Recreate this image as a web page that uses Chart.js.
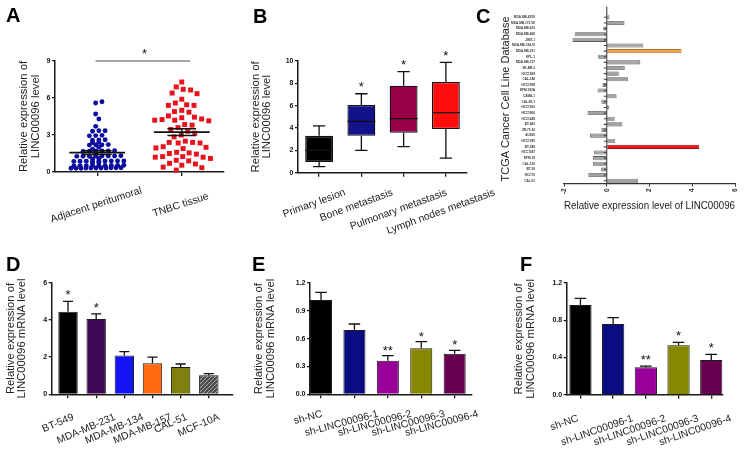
<!DOCTYPE html>
<html>
<head>
<meta charset="utf-8">
<title>LINC00096 figure</title>
<script src="https://cdn.jsdelivr.net/npm/chart.js@4.4.1/dist/chart.umd.min.js"></script>
<style>
  html, body { margin:0; padding:0; background:#ffffff; }
  #fig { position:relative; width:753px; height:455px; overflow:hidden; background:#fff; }
  #fig canvas { position:absolute; left:0; top:0; }
  .panel { position:absolute; font-family:"Liberation Sans", Arial, sans-serif; font-weight:bold; font-size:20px; line-height:20px; color:#000; }
</style>
</head>
<body>
<div id="fig">
  <canvas id="chartA" width="753" height="455"></canvas>
  <canvas id="chartB" width="753" height="455"></canvas>
  <canvas id="chartC" width="753" height="455"></canvas>
  <canvas id="chartD" width="753" height="455"></canvas>
  <canvas id="chartE" width="753" height="455"></canvas>
  <canvas id="chartF" width="753" height="455"></canvas>
  <div class="panel" style="left:6px;top:5px">A</div>
  <div class="panel" style="left:253px;top:6px">B</div>
  <div class="panel" style="left:476px;top:6px">C</div>
  <div class="panel" style="left:6px;top:254px">D</div>
  <div class="panel" style="left:252px;top:254px">E</div>
  <div class="panel" style="left:520px;top:254px">F</div>
</div>
<script>
// ================= DATA =================
// Panel A – individual samples
const aGroups = ['Adjacent peritumoral', 'TNBC tissue'];
const aAdjacent = [5.7, 5.6, 4.7, 4.3, 3.7,
  3.35, 3.35, 3.3,
  2.95, 2.97, 2.93,
  2.6, 2.62, 2.58,
  2.4, 2.38,
  2.2, 2.2, 2.18, 2.22,
  2.0, 1.85,
  1.7, 1.68, 1.7, 1.66, 1.72, 1.7, 1.5,
  1.3, 1.28, 1.3, 1.27, 1.3, 1.32, 1.28, 1.3, 1.1, 1.05,
  0.9, 0.88, 0.87, 0.9, 0.88, 0.86, 0.9, 0.88, 0.89, 0.75, 0.7,
  0.54, 0.52, 0.55, 0.52, 0.54, 0.5, 0.53, 0.52, 0.52,
  0.35, 0.33, 0.32, 0.35, 0.3, 0.34, 0.33, 0.31, 0.32, 0.3, 0.33];
const aTnbc = [7.3, 6.9, 6.7, 6.65, 6.4, 6.35, 5.9, 5.6, 5.45, 5.4, 5.4, 5.0, 4.9, 4.85, 4.55, 4.45, 4.4, 4.3, 4.2, 4.2, 4.15, 4.25,
  3.85, 3.8, 3.6, 3.45, 3.3, 3.15, 3.0, 2.85, 2.5, 2.4, 2.35, 2.4, 2.35, 2.05, 1.95, 1.9, 2.0, 1.6, 1.55, 1.5, 1.45,
  1.25, 1.2, 1.2, 1.1, 1.25, 0.95, 0.9, 0.7, 0.65, 0.55, 0.4, 0.35, 0.15];
const aTicks = [0, 3, 6, 9];

// Panel B – box plots
const bGroups = ['Primary lesion', 'Bone metastasis', 'Pulmonary metastasis', 'Lymph nodes metastasis'];
const bMin    = [0.55, 2.00, 2.33, 1.31];
const bQ1     = [0.96, 3.31, 3.58, 3.91];
const bMedian = [2.00, 4.60, 4.84, 5.37];
const bQ3     = [3.30, 6.06, 7.79, 8.12];
const bMax    = [4.20, 7.07, 9.04, 9.88];
const bStars  = ['', '*', '*', '*'];
const bTicks  = [0, 2, 4, 6, 8, 10];

// Panel C – TCGA cell lines
const cCellLines = ['MDA-MB-435S','MDA-MB-175-VII','MDA-MB-415','MDA-MB-468','JIMT-1','MDA-MB-134-VI','MDA-MB-231',
  'KPL-1','MDA-MB-157','SK-BR-3','HCC1569','CAL-148','HCC1599','EFM-192A','CAMA-1','CAL-85-1','HCC1500','HCC1806',
  'HCC1428','BT-483','ZR-75-30','AU565','HCC1395','BT-549','HCC1187','EFM-19','CAL-120','BT-20','HCC70','CAL-51'];
const cValues = [0.12, 0.83, -0.16, -1.5, -1.6, 1.71, 3.5, -0.4, 1.57, 0.84, 0.56, 1.0, -0.2, -0.43, 0.46, -0.25, 0.12, -0.9,
  0.37, 0.73, -0.25, -0.78, 0.4, 4.33, -0.59, -0.65, -0.64, -0.26, -0.86, 1.47];
const cTicks = [-2, 0, 2, 4, 6];

// Panel D – cell lines qPCR
const dCellLines = ['BT-549','MDA-MB-231','MDA-MB-134','MDA-MB-157','CAL-51','MCF-10A'];
const dMeans  = [4.44, 4.05, 2.08, 1.67, 1.47, 1.02];
const dErrors = [0.56, 0.27, 0.21, 0.33, 0.16, 0.09];
const dStars  = ['*', '*', '', '', '', ''];
const dTicks  = [0, 2, 4, 6];

// Panels E and F – knockdown
const shGroups = ['sh-NC','sh-LINC00096-1','sh-LINC00096-2','sh-LINC00096-3','sh-LINC00096-4'];
const eMeans  = [1.017, 0.694, 0.363, 0.496, 0.438];
const eErrors = [0.083, 0.064, 0.054, 0.072, 0.036];
const eStars  = ['', '', '**', '*', '*'];
const eTicks  = [0, 0.3, 0.6, 0.9, 1.2];
const fMeans  = [0.963, 0.759, 0.294, 0.530, 0.372];
const fErrors = [0.072, 0.068, 0.014, 0.032, 0.061];
const fStars  = ['', '', '**', '*', '*'];
const fTicks  = [0, 0.4, 0.8, 1.2];

// ================= STYLE =================
const FONT = '"Liberation Sans", Arial, Helvetica, sans-serif';
Chart.defaults.font.family = FONT;
Chart.defaults.font.size = 10;
Chart.defaults.color = '#222';
Chart.defaults.animation = false;
Chart.defaults.responsive = false;
Chart.defaults.events = [];
Chart.defaults.plugins.legend.display = false;
Chart.defaults.plugins.tooltip.enabled = false;
const AX = '#1a1a1a';
const W = 753, H = 455;
const Y_TITLE_FONT = {size: 11.3, lineHeight: 1.02};
const TITLE2 = ['Relative expression of', 'LINC00096 mRNA level'];

const mean = a => a.reduce((s, v) => s + v, 0) / a.length;
const sem = a => { const m = mean(a); return Math.sqrt(a.reduce((s, v) => s + (v - m) * (v - m), 0) / (a.length - 1)) / Math.sqrt(a.length); };

function valueAxis(min, max, ticks, fmt, title, titlePad, width) {
  return {
    type: 'linear', min, max,
    afterBuildTicks: s => { s.ticks = ticks.map(v => ({value: v})); },
    ticks: {font: {size: 7, weight: 'bold'}, padding: 1.5, color: '#111', callback: v => fmt(v)},
    grid: {drawOnChartArea: false, drawTicks: true, tickLength: 3, color: AX, lineWidth: 1.3},
    border: {display: true, color: AX, width: 1.5},
    title: {display: true, text: title, font: Y_TITLE_FONT, padding: {top: titlePad, bottom: 0}, color: '#222'},
    afterFit: s => { s.width = width; }
  };
}
function indexAxis(count, min, max, height) {
  return {
    type: 'linear', min, max, offset: false,
    afterBuildTicks: s => { s.ticks = Array.from({length: count}, (_, i) => ({value: i})); },
    ticks: {display: false},
    grid: {offset: false, drawOnChartArea: false, drawTicks: true, tickLength: 4, color: AX, lineWidth: 1.3},
    border: {display: true, color: AX, width: 1.5},
    afterFit: s => { s.height = height; }
  };
}
function drawStar(ctx, s, x, cy) {
  ctx.save();
  ctx.fillStyle = '#111';
  ctx.font = '13px ' + FONT;
  ctx.textAlign = 'center';
  ctx.textBaseline = 'alphabetic';
  ctx.fillText(s, x, cy + 0.58 * 13);
  ctx.restore();
}
// rotated category labels; the label centre sits at (tick + dx, bottom + dy [+ half length * sin])
function drawRotLabels(chart, labels, deg, dx, dy, size, lengthDrop) {
  const xs = chart.scales.x, ctx = chart.ctx, th = deg * Math.PI / 180;
  ctx.save();
  ctx.font = size + 'px ' + FONT;
  ctx.fillStyle = '#222';
  ctx.textAlign = 'center';
  ctx.textBaseline = 'middle';
  xs.ticks.forEach((t, i) => {
    const L = ctx.measureText(labels[i]).width;
    const cy = chart.chartArea.bottom + dy + (lengthDrop ? L / 2 * Math.sin(th) : 0);
    ctx.save();
    ctx.translate(xs.getPixelForValue(t.value) + dx, cy);
    ctx.rotate(-th);
    ctx.fillText(labels[i], 0, 0);
    ctx.restore();
  });
  ctx.restore();
}
function barExtras(means, errors, stars, gap, labels, deg, dx, dy) {
  return {
    id: 'barExtras',
    afterDatasetsDraw(chart) {
      const ctx = chart.ctx, ys = chart.scales.y;
      const bars = chart.getDatasetMeta(0).data;
      ctx.save();
      ctx.strokeStyle = '#111';
      ctx.lineWidth = 1.3;
      bars.forEach((bar, i) => {
        const yTop = ys.getPixelForValue(means[i] + errors[i]);
        const yMean = ys.getPixelForValue(means[i]);
        const half = bar.width * 0.26;
        ctx.beginPath();
        ctx.moveTo(bar.x, yMean); ctx.lineTo(bar.x, yTop);
        ctx.moveTo(bar.x - half, yTop); ctx.lineTo(bar.x + half, yTop);
        ctx.stroke();
        if (stars[i]) drawStar(ctx, stars[i], bar.x, yTop - gap);
      });
      ctx.restore();
      drawRotLabels(chart, labels, deg, dx, dy, 10.3, true);
    }
  };
}

// ================= PANEL A =================
const aCenters = [0.5, 1.5];
const A_PX_X = (224 - 55) / 2, A_PX_Y = (172 - 61) / 9;   // px per unit (layout)
// GraphPad-like row layout: near-equal values share a row, spread sideways, rows interleave
function rowLayout(vals, cx, tol, spacingPx, maxWidthPx) {
  const order = vals.map((v, i) => i).sort((a, b) => vals[a] - vals[b]);
  const out = new Array(vals.length);
  let group = [], row = 0;
  const flush = () => {
    const n = group.length;
    const sp = n > 1 ? Math.min(spacingPx, maxWidthPx / (n - 1)) : spacingPx;
    const shift = (row % 2 ? 1 : -1) * sp * 0.25;
    group.forEach((idx, k) => {
      const off = (k - (n - 1) / 2) * sp + shift;
      out[idx] = {x: cx + off / A_PX_X, y: vals[idx]};
    });
    row++;
  };
  order.forEach(i => {
    if (group.length && vals[i] - vals[group[0]] >= tol) { flush(); group = []; }
    group.push(i);
  });
  if (group.length) flush();
  return out;
}
// beeswarm: each point takes the free horizontal slot nearest the centre
function swarm(vals, cx, d) {
  const order = vals.map((v, i) => i).sort((a, b) => vals[b] - vals[a]);
  const placed = [], out = new Array(vals.length);
  order.forEach((i, k) => {
    const y = vals[i] * A_PX_Y;
    const iv = [];
    placed.forEach(p => { const dy = Math.abs(p.y - y); if (dy < d) { const w = Math.sqrt(d * d - dy * dy); iv.push([p.x - w, p.x + w]); } });
    const cands = [0];
    iv.forEach(([a, b]) => cands.push(a, b));
    const sgn = k % 2 ? 1 : -1;
    cands.sort((a, b) => (Math.abs(a) - Math.abs(b)) || (sgn * (a - b)));
    let x = 0;
    for (const c of cands) { if (!iv.some(([a, b]) => c > a + 1e-6 && c < b - 1e-6)) { x = c; break; } }
    placed.push({x, y});
    out[i] = {x: cx + x / A_PX_X, y: vals[i]};
  });
  return out;
}
const aPlugin = {
  id: 'aExtras',
  afterDatasetsDraw(chart) {
    const {ctx, scales: {x, y}} = chart;
    ctx.save();
    ctx.strokeStyle = '#111';
    [aAdjacent, aTnbc].forEach((vals, g) => {
      const m = mean(vals), e = sem(vals), c = aCenters[g];
      const ym = y.getPixelForValue(m), yu = y.getPixelForValue(m + e), yl = y.getPixelForValue(m - e);
      ctx.lineWidth = 1.8;
      ctx.beginPath();
      ctx.moveTo(x.getPixelForValue(c - 0.33), ym); ctx.lineTo(x.getPixelForValue(c + 0.33), ym);
      ctx.stroke();
      ctx.lineWidth = 1.5;
      ctx.beginPath();
      ctx.moveTo(x.getPixelForValue(c - 0.17), yu); ctx.lineTo(x.getPixelForValue(c + 0.17), yu);
      ctx.moveTo(x.getPixelForValue(c - 0.17), yl); ctx.lineTo(x.getPixelForValue(c + 0.17), yl);
      ctx.moveTo(x.getPixelForValue(c), yu); ctx.lineTo(x.getPixelForValue(c), yl);
      ctx.stroke();
    });
    const yb = y.getPixelForValue(9);
    ctx.strokeStyle = '#8a8a8a';
    ctx.lineWidth = 1.3;
    ctx.beginPath();
    ctx.moveTo(x.getPixelForValue(0.48), yb); ctx.lineTo(x.getPixelForValue(1.6), yb);
    ctx.stroke();
    ctx.restore();
    drawStar(ctx, '*', x.getPixelForValue(1.06), yb - 11);
    drawRotLabels(chart, aGroups, 18, -1, 33, 10.4, false);
  }
};
new Chart(document.getElementById('chartA'), {
  type: 'scatter',
  data: {
    datasets: [
      {data: rowLayout(aAdjacent, aCenters[0], 0.15, 6.3, 50), pointStyle: 'circle', pointRadius: 2.45, backgroundColor: '#0c0ca0', borderColor: '#0c0ca0', borderWidth: 0, clip: false},
      {data: swarm(aTnbc, aCenters[1], 7.4), pointStyle: 'rect', pointRadius: 3.5, backgroundColor: '#e8121c', borderColor: '#e8121c', borderWidth: 0, clip: false}
    ]
  },
  options: {
    layout: {padding: {left: 0, top: 61, right: W - 224, bottom: H - 172 - 20}},
    scales: {
      x: {type: 'linear', min: 0, max: 2, offset: false,
          afterBuildTicks: s => { s.ticks = aCenters.map(v => ({value: v})); },
          ticks: {display: false},
          grid: {offset: false, drawOnChartArea: false, drawTicks: true, tickLength: 4, color: AX, lineWidth: 1.3},
          border: {display: true, color: AX, width: 1.5},
          afterFit: s => { s.height = 20; }},
      y: valueAxis(0, 9, aTicks, v => String(v), ['Relative expression of', 'LINC00096 level'], 18.2, 55)
    }
  },
  plugins: [aPlugin]
});

// ================= PANEL B =================
const bColors = ['#000000', '#12138a', '#990047', '#ff0d0d'];
const bPlugin = {
  id: 'bExtras',
  afterDatasetsDraw(chart) {
    const ctx = chart.ctx, ys = chart.scales.y;
    const boxes = chart.getDatasetMeta(0).data;
    ctx.save();
    ctx.strokeStyle = '#111';
    ctx.lineWidth = 1.3;
    boxes.forEach((b, i) => {
      const x = b.x, hw = b.width / 2, cw = b.width * 0.22;
      const pMin = ys.getPixelForValue(bMin[i]), pQ1 = ys.getPixelForValue(bQ1[i]);
      const pMed = ys.getPixelForValue(bMedian[i]), pQ3 = ys.getPixelForValue(bQ3[i]), pMax = ys.getPixelForValue(bMax[i]);
      ctx.beginPath();
      ctx.moveTo(x, pQ3); ctx.lineTo(x, pMax);
      ctx.moveTo(x - cw, pMax); ctx.lineTo(x + cw, pMax);
      ctx.moveTo(x, pQ1); ctx.lineTo(x, pMin);
      ctx.moveTo(x - cw, pMin); ctx.lineTo(x + cw, pMin);
      ctx.moveTo(x - hw, pMed); ctx.lineTo(x + hw, pMed);
      ctx.stroke();
      if (bStars[i]) drawStar(ctx, bStars[i], x, pMax - 10);
    });
    ctx.restore();
    drawRotLabels(chart, bGroups, 20, -5, 19.5, 10.4, true);
  }
};
new Chart(document.getElementById('chartB'), {
  type: 'bar',
  data: {
    labels: bGroups,
    datasets: [{data: bQ1.map((q, i) => [q, bQ3[i]]), backgroundColor: bColors, borderColor: '#111', borderWidth: 1.3,
                borderSkipped: false, barPercentage: 0.66, categoryPercentage: 1}]
  },
  options: {
    layout: {padding: {left: 240, top: 61, right: W - 467, bottom: H - 172.7 - 20}},
    scales: {
      x: {type: 'category', offset: true, ticks: {display: false},
          grid: {offset: false, drawOnChartArea: false, drawTicks: true, tickLength: 4, color: AX, lineWidth: 1.3},
          border: {display: true, color: AX, width: 1.5},
          afterFit: s => { s.height = 20; }},
      y: valueAxis(0, 10, bTicks, v => String(v), ['Relative expression of', 'LINC00096 level'], 9.9, 58)
    }
  },
  plugins: [bPlugin]
});

// ================= PANEL C =================
const cHighlightFill = {'MDA-MB-231': '#eea455', 'BT-549': '#e3191c'};
const cHighlightEdge = {'MDA-MB-231': '#b8752a', 'BT-549': '#a30d0d'};
const cPlugin = {
  id: 'cZero',
  afterDatasetsDraw(chart) {
    const {ctx, scales: {x, y}, chartArea} = chart;
    const x0 = x.getPixelForValue(0);
    ctx.save();
    ctx.strokeStyle = '#444';
    ctx.lineWidth = 1.1;
    ctx.beginPath();
    ctx.moveTo(x0, chartArea.top - 8); ctx.lineTo(x0, chartArea.bottom);
    cCellLines.forEach((_, i) => { const yy = y.getPixelForValue(i); ctx.moveTo(x0 - 3, yy); ctx.lineTo(x0, yy); });
    ctx.stroke();
    ctx.restore();
  }
};
new Chart(document.getElementById('chartC'), {
  type: 'bar',
  data: {
    labels: cCellLines,
    datasets: [{data: cValues,
                backgroundColor: cCellLines.map(n => cHighlightFill[n] || '#a2a2a2'),
                borderColor: cCellLines.map(n => cHighlightEdge[n] || '#5a5a5a'),
                borderWidth: 0.8, borderSkipped: false, barPercentage: 0.72, categoryPercentage: 1}]
  },
  options: {
    indexAxis: 'y',
    layout: {padding: {left: 490, top: 14.5, right: W - 735, bottom: H - 183.5 - 29}},
    scales: {
      x: {type: 'linear', min: -2, max: 6,
          afterBuildTicks: s => { s.ticks = cTicks.map(v => ({value: v})); },
          ticks: {minRotation: 90, maxRotation: 90, font: {size: 6.5, weight: 'bold'}, padding: 2, color: '#333'},
          grid: {drawOnChartArea: false, drawTicks: true, tickLength: 3, color: '#333', lineWidth: 1},
          border: {display: true, color: '#333', width: 1.2},
          title: {display: true, text: 'Relative expression level of LINC00096', align: 'end', font: {size: 10.6}, padding: 0, color: '#222'},
          afterFit: s => { s.height = 29; }},
      y: {type: 'category', offset: true,
          grid: {display: true, drawOnChartArea: false, drawTicks: true, tickLength: 27, color: 'rgba(0,0,0,0)'},
          border: {display: false},
          ticks: {autoSkip: false, font: {size: 3.1, weight: 'bold'}, padding: 2, color: '#333'},
          title: {display: true, text: 'TCGA Cancer Cell Line Database', font: {size: 11, lineHeight: 1.2}, padding: {top: 9, bottom: 0}, color: '#222'},
          afterFit: s => { s.width = 74; }}
    }
  },
  plugins: [cPlugin]
});

// ================= PANEL D =================
function hatchPattern() {
  const c = document.createElement('canvas');
  c.width = 4; c.height = 4;
  const g = c.getContext('2d');
  g.fillStyle = '#4d4d4d'; g.fillRect(0, 0, 4, 4);
  g.strokeStyle = '#a8a8a8'; g.lineWidth = 1;
  g.beginPath(); g.moveTo(-1, 5); g.lineTo(5, -1); g.stroke();
  return g.createPattern(c, 'repeat');
}
const dColors = ['#000000', '#3e0a55', '#1414f5', '#ff6a12', '#80800e', hatchPattern()];
new Chart(document.getElementById('chartD'), {
  type: 'bar',
  data: {datasets: [{data: dMeans.map((v, i) => ({x: i, y: v})), backgroundColor: dColors, borderColor: '#1a1a1a',
                     borderWidth: 1, barPercentage: 0.69, categoryPercentage: 1}]},
  options: {
    layout: {padding: {left: 0, top: 282.7, right: W - 233, bottom: 0}},
    scales: {
      x: indexAxis(dCellLines.length, -0.58, 5.86, H - 394.3),
      y: valueAxis(0, 6, dTicks, v => String(v), TITLE2, 4.9, 51.7)
    }
  },
  plugins: [barExtras(dMeans, dErrors, dStars, 9.5, dCellLines, 23, -10, 22.4)]
});

// ================= PANEL E =================
const shColors = ['#000000', '#0b0b82', '#990099', '#878700', '#66004f'];
new Chart(document.getElementById('chartE'), {
  type: 'bar',
  data: {datasets: [{data: eMeans.map((v, i) => ({x: i, y: v})), backgroundColor: shColors, borderColor: '#1a1a1a',
                     borderWidth: 1, barPercentage: 0.66, categoryPercentage: 1}]},
  options: {
    layout: {padding: {left: 250, top: 283, right: W - 471.7, bottom: 0}},
    scales: {
      x: indexAxis(shGroups.length, -0.33, 4.51, H - 394.3),
      y: valueAxis(0, 1.2, eTicks, v => v.toFixed(1), TITLE2, 3.2, 60)
    }
  },
  plugins: [barExtras(eMeans, eErrors, eStars, 8.5, shGroups, 15, -13, 19.5)]
});

// ================= PANEL F =================
new Chart(document.getElementById('chartF'), {
  type: 'bar',
  data: {datasets: [{data: fMeans.map((v, i) => ({x: i, y: v})), backgroundColor: shColors, borderColor: '#1a1a1a',
                     borderWidth: 1, barPercentage: 0.68, categoryPercentage: 1}]},
  options: {
    layout: {padding: {left: 510, top: 283, right: W - 722.7, bottom: 0}},
    scales: {
      x: indexAxis(shGroups.length, -0.42, 4.35, H - 394.7),
      y: valueAxis(0, 1.2, fTicks, v => v.toFixed(1), TITLE2, 3.2, 56.7)
    }
  },
  plugins: [barExtras(fMeans, fErrors, fStars, 9.5, shGroups, 19, -16, 23.5)]
});
</script>
</body>
</html>
